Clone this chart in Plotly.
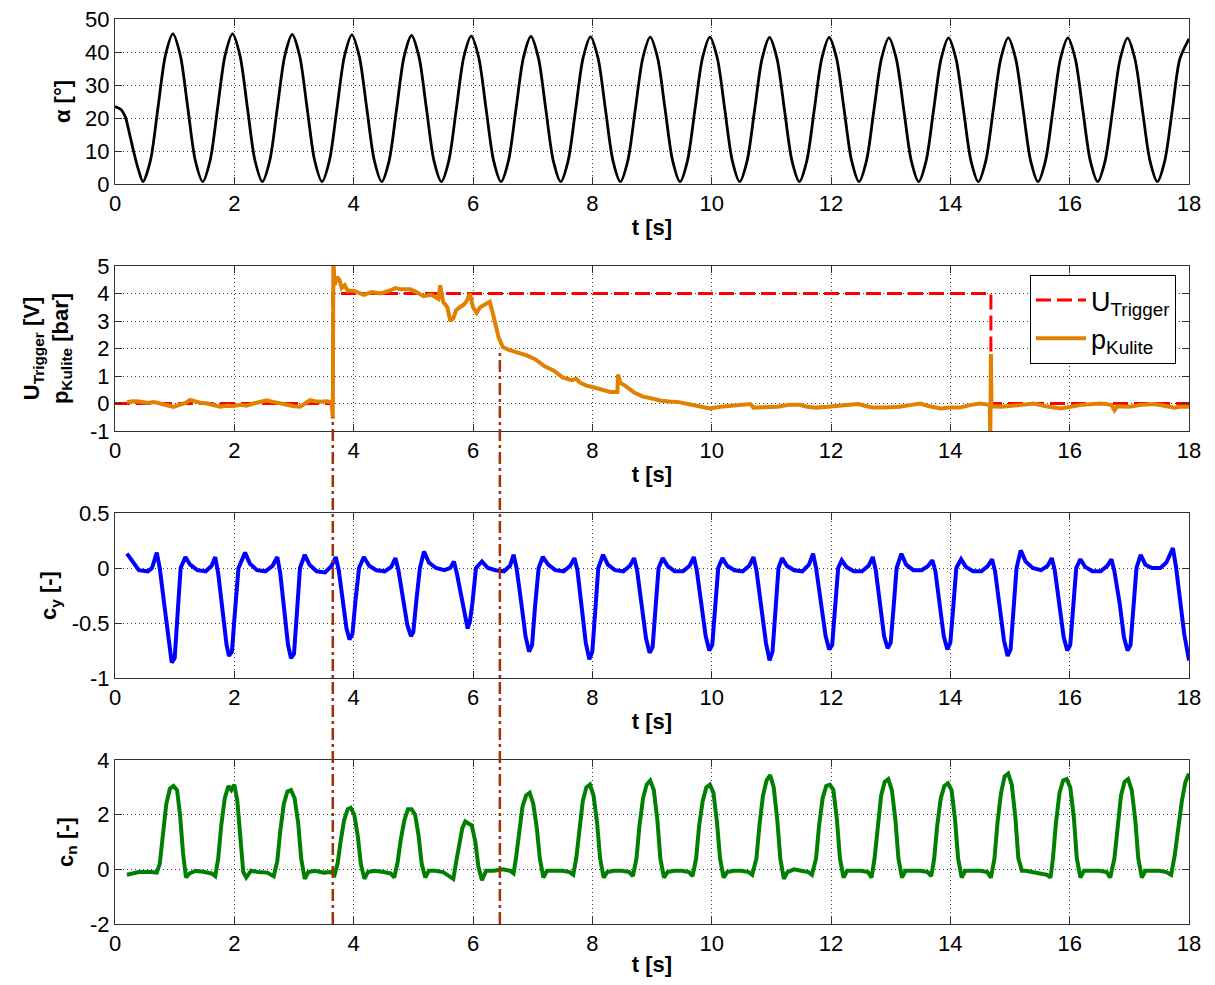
import plotly.graph_objects as go

# ---------------- data ----------------
# panel 1: angle of attack alpha [deg] (read at 1/8-period steps)
alpha_t = [0.0, 0.10, 0.17, 0.24, 0.31, 0.39,
           0.47, 0.595, 0.72, 0.845, 0.97, 1.095, 1.22, 1.345,
           1.47, 1.595, 1.72, 1.845, 1.97, 2.095, 2.22, 2.345,
           2.47, 2.595, 2.72, 2.845, 2.97, 3.095, 3.22, 3.345,
           3.47, 3.595, 3.72, 3.845, 3.97, 4.095, 4.22, 4.345,
           4.47, 4.595, 4.72, 4.845, 4.97, 5.095, 5.22, 5.345,
           5.47, 5.595, 5.72, 5.845, 5.97, 6.095, 6.22, 6.345,
           6.47, 6.595, 6.72, 6.845, 6.97, 7.095, 7.22, 7.345,
           7.47, 7.595, 7.72, 7.845, 7.97, 8.095, 8.22, 8.345,
           8.47, 8.595, 8.72, 8.845, 8.97, 9.095, 9.22, 9.345,
           9.47, 9.595, 9.72, 9.845, 9.97, 10.095, 10.22, 10.345,
           10.47, 10.595, 10.72, 10.845, 10.97, 11.095, 11.22, 11.345,
           11.47, 11.595, 11.72, 11.845, 11.97, 12.095, 12.22, 12.345,
           12.47, 12.595, 12.72, 12.845, 12.97, 13.095, 13.22, 13.345,
           13.47, 13.595, 13.72, 13.845, 13.97, 14.095, 14.22, 14.345,
           14.47, 14.595, 14.72, 14.845, 14.97, 15.095, 15.22, 15.345,
           15.47, 15.595, 15.72, 15.845, 15.97, 16.095, 16.22, 16.345,
           16.47, 16.595, 16.72, 16.845, 16.97, 17.095, 17.22, 17.345,
           17.47, 17.595, 17.72, 17.845, 18.0]
alpha_v = [23.5, 22.6, 20.5, 15.5, 10.0, 4.5,
           0.7, 7.2, 23.1, 39.0, 45.5, 39.0, 23.1, 7.2,
           0.7, 7.2, 23.1, 39.0, 45.5, 38.9, 23.0, 7.2,
           0.7, 7.2, 23.0, 38.8, 45.3, 38.8, 23.0, 7.2,
           0.7, 7.2, 22.9, 38.7, 45.2, 38.6, 22.9, 7.2,
           0.7, 7.1, 22.8, 38.6, 45.0, 38.5, 22.8, 7.1,
           0.7, 7.1, 22.7, 38.4, 44.8, 38.4, 22.7, 7.1,
           0.7, 7.1, 22.7, 38.3, 44.7, 38.3, 22.7, 7.1,
           0.7, 7.1, 22.6, 38.2, 44.6, 38.2, 22.6, 7.1,
           0.7, 7.1, 22.6, 38.1, 44.5, 38.1, 22.6, 7.1,
           0.7, 7.1, 22.6, 38.1, 44.5, 38.1, 22.6, 7.1,
           0.7, 7.1, 22.5, 38.0, 44.4, 38.0, 22.5, 7.1,
           0.7, 7.1, 22.5, 38.0, 44.4, 38.0, 22.5, 7.1,
           0.7, 7.1, 22.5, 37.9, 44.3, 37.9, 22.5, 7.1,
           0.7, 7.1, 22.5, 37.9, 44.3, 37.9, 22.5, 7.1,
           0.7, 7.1, 22.5, 37.9, 44.3, 37.9, 22.5, 7.1,
           0.7, 7.1, 22.5, 37.9, 44.3, 37.9, 22.5, 7.1,
           0.7, 7.1, 22.4, 37.8, 44.2, 37.8, 22.4, 7.1,
           0.7, 7.1, 22.4, 37.8, 44.0]

# panel 2: trigger voltage [V]
trig_t = [0.0, 3.65, 3.65, 14.68, 14.68, 18.0]
trig_v = [0.0, 0.0, 4.0, 4.0, 0.0, 0.0]

# panel 2: Kulite pressure [bar]
p_t = [0.20, 0.30, 0.41, 0.55, 0.65, 0.75, 0.85, 0.98, 1.08, 1.18, 1.26, 1.35, 1.43, 1.55, 1.65,
       1.76, 1.88, 1.98, 2.10, 2.20, 2.32, 2.42, 2.54, 2.65, 2.77, 2.90, 3.00, 3.10, 3.20, 3.27,
       3.35, 3.45, 3.55, 3.63, 3.65, 3.66, 3.68, 3.72, 3.76, 3.80, 3.85, 3.90, 4.00, 4.10, 4.17,
       4.30, 4.45, 4.60, 4.70, 4.80, 4.95, 5.05, 5.17, 5.30, 5.38, 5.42, 5.45, 5.50, 5.57, 5.62,
       5.67, 5.72, 5.78, 5.85, 5.90, 5.95, 6.00, 6.06, 6.12, 6.20, 6.28, 6.33, 6.38, 6.43, 6.50,
       6.60, 6.75, 6.90, 7.05, 7.20, 7.35, 7.50, 7.65, 7.73, 7.80, 7.90, 8.00, 8.15, 8.30, 8.42,
       8.43, 8.47, 8.55, 8.70, 8.85, 9.00, 9.15, 9.30, 9.45, 9.60, 9.80, 9.97, 10.15, 10.35, 10.60,
       10.65, 10.70, 10.90, 11.10, 11.30, 11.47, 11.60, 11.75, 11.95, 12.20, 12.45, 12.60, 12.70,
       12.90, 13.15, 13.35, 13.49, 13.65, 13.83, 14.00, 14.16, 14.35, 14.50, 14.66, 14.67, 14.68,
       14.69, 14.85, 15.00, 15.20, 15.40, 15.60, 15.85, 16.00, 16.20, 16.52, 16.70, 16.75, 16.80,
       17.00, 17.20, 17.42, 17.60, 17.76, 17.85, 18.00]
p_v = [0.05, 0.08, 0.07, 0.02, 0.05, 0.00, -0.08, -0.12, -0.05, 0.02, 0.13, 0.06, 0.03, 0.00, -0.05,
       -0.12, -0.08, -0.10, -0.05, -0.08, 0.00, 0.05, 0.12, 0.06, 0.00, -0.05, -0.10, -0.12, 0.00, 0.12,
       0.08, 0.06, 0.08, 0.05, -0.55, 5.30, 4.30, 4.60, 4.50, 4.20, 4.30, 4.10, 4.10, 4.00, 3.95,
       4.05, 4.00, 4.10, 4.20, 4.15, 4.15, 4.05, 3.90, 3.95, 3.85, 3.80, 4.30, 3.70, 3.50, 3.00,
       3.10, 3.40, 3.50, 3.60, 3.75, 4.00, 3.50, 3.30, 3.50, 3.60, 3.70, 3.30, 2.90, 2.40, 2.05,
       1.95, 1.85, 1.75, 1.60, 1.35, 1.20, 0.95, 0.85, 0.90, 0.75, 0.65, 0.60, 0.50, 0.42, 0.42,
       1.05, 0.75, 0.65, 0.40, 0.25, 0.18, 0.10, 0.07, 0.05, -0.02, -0.10, -0.18, -0.12, -0.08, -0.05,
       -0.02, -0.15, -0.15, -0.12, -0.05, -0.05, -0.12, -0.15, -0.12, -0.08, -0.02, -0.10, -0.15,
       -0.15, -0.12, -0.05, 0.00, -0.10, -0.18, -0.15, -0.15, -0.05, 0.00, -0.05, -1.30, 1.80,
       -0.10, -0.12, -0.10, -0.05, 0.00, -0.10, -0.18, -0.12, -0.05, 0.00, -0.05, -0.25, -0.10,
       -0.12, -0.05, -0.02, -0.10, -0.15, -0.12, -0.12]

# panel 3: side force coefficient c_y
cy_t = [0.20, 0.30, 0.40, 0.55, 0.62,
        0.70, 0.75, 0.83, 0.90, 0.95, 1.00, 1.05, 1.10, 1.18, 1.26, 1.38, 1.52, 1.62,
        1.68, 1.73, 1.80, 1.87, 1.91, 1.96, 2.01, 2.07, 2.18, 2.26, 2.38, 2.52, 2.64,
        2.72, 2.77, 2.84, 2.90, 2.95, 3.00, 3.05, 3.10, 3.18, 3.26, 3.38, 3.52, 3.63,
        3.70, 3.75, 3.82, 3.88, 3.93, 3.98, 4.03, 4.09, 4.17, 4.26, 4.38, 4.52, 4.63,
        4.70, 4.75, 4.83, 4.90, 4.96, 5.00, 5.05, 5.11, 5.18, 5.26, 5.38, 5.52, 5.62,
        5.68, 5.73, 5.80, 5.86, 5.91, 5.95, 5.99, 6.05, 6.15, 6.25, 6.38, 6.52, 6.62,
        6.68, 6.73, 6.81, 6.88, 6.94, 6.99, 7.04, 7.10, 7.17, 7.26, 7.38, 7.52, 7.63,
        7.70, 7.75, 7.82, 7.89, 7.95, 8.00, 8.05, 8.10, 8.18, 8.26, 8.38, 8.52, 8.63,
        8.70, 8.75, 8.83, 8.90, 8.96, 9.01, 9.06, 9.11, 9.18, 9.26, 9.38, 9.52, 9.63,
        9.70, 9.75, 9.83, 9.90, 9.96, 10.01, 10.06, 10.11, 10.18, 10.26, 10.38, 10.52, 10.63,
        10.70, 10.75, 10.84, 10.91, 10.97, 11.02, 11.07, 11.12, 11.18, 11.26, 11.38, 11.52, 11.63,
        11.70, 11.75, 11.84, 11.91, 11.97, 12.02, 12.07, 12.12, 12.18, 12.26, 12.38, 12.52, 12.63,
        12.70, 12.75, 12.82, 12.89, 12.95, 13.00, 13.05, 13.10, 13.18, 13.26, 13.38, 13.52, 13.63,
        13.70, 13.75, 13.82, 13.89, 13.95, 14.00, 14.05, 14.10, 14.18, 14.26, 14.38, 14.52, 14.63,
        14.70, 14.75, 14.83, 14.90, 14.96, 15.01, 15.06, 15.11, 15.18, 15.26, 15.38, 15.52, 15.63,
        15.70, 15.75, 15.83, 15.90, 15.96, 16.01, 16.06, 16.11, 16.18, 16.26, 16.38, 16.52, 16.63,
        16.70, 16.75, 16.84, 16.91, 16.97, 17.02, 17.07, 17.12, 17.19, 17.27, 17.38, 17.52, 17.62,
        17.70, 17.73, 17.78, 17.85, 17.92, 18.00]
cy_v = [0.13, 0.05, -0.02, -0.03, 0.00,
        0.14, 0.00, -0.35, -0.68, -0.86, -0.82, -0.40, 0.00, 0.10, 0.03, -0.02, -0.03, 0.02,
        0.10, -0.05, -0.38, -0.70, -0.80, -0.76, -0.40, 0.00, 0.14, 0.04, -0.02, -0.03, 0.02,
        0.10, -0.05, -0.38, -0.70, -0.82, -0.78, -0.40, 0.00, 0.12, 0.03, -0.03, -0.04, 0.02,
        0.10, -0.02, -0.30, -0.55, -0.65, -0.60, -0.30, 0.00, 0.10, 0.02, -0.02, -0.03, 0.01,
        0.09, -0.02, -0.28, -0.52, -0.62, -0.58, -0.30, 0.00, 0.15, 0.05, 0.00, -0.02, 0.00,
        0.06, -0.05, -0.25, -0.45, -0.55, -0.48, -0.32, 0.00, 0.06, 0.00, -0.02, -0.03, 0.02,
        0.12, 0.00, -0.32, -0.62, -0.76, -0.70, -0.35, 0.00, 0.10, 0.03, -0.02, -0.03, 0.02,
        0.09, -0.02, -0.35, -0.68, -0.83, -0.76, -0.38, 0.00, 0.12, 0.03, -0.02, -0.03, 0.02,
        0.09, -0.02, -0.33, -0.64, -0.77, -0.72, -0.36, 0.00, 0.09, 0.02, -0.03, -0.03, 0.02,
        0.10, -0.02, -0.33, -0.62, -0.75, -0.70, -0.35, 0.00, 0.09, 0.02, -0.02, -0.03, 0.02,
        0.10, -0.02, -0.36, -0.68, -0.84, -0.76, -0.38, 0.00, 0.09, 0.02, -0.02, -0.03, 0.03,
        0.13, 0.00, -0.33, -0.62, -0.74, -0.70, -0.35, 0.00, 0.07, 0.01, -0.03, -0.03, 0.02,
        0.10, -0.02, -0.33, -0.62, -0.73, -0.68, -0.35, 0.00, 0.13, 0.03, -0.02, -0.02, 0.02,
        0.07, -0.03, -0.33, -0.62, -0.74, -0.68, -0.35, 0.00, 0.08, 0.01, -0.03, -0.03, 0.02,
        0.08, -0.03, -0.35, -0.66, -0.80, -0.74, -0.37, 0.00, 0.16, 0.06, 0.00, -0.02, 0.02,
        0.09, -0.02, -0.33, -0.63, -0.75, -0.70, -0.35, 0.00, 0.08, 0.01, -0.03, -0.03, 0.02,
        0.08, -0.03, -0.33, -0.63, -0.75, -0.70, -0.35, 0.00, 0.12, 0.03, 0.00, 0.00, 0.05,
        0.15, 0.18, 0.02, -0.30, -0.60, -0.84]

# panel 4: normal force coefficient c_n
cn_t = [0.20, 0.40, 0.60, 0.70,
        0.75, 0.80, 0.86, 0.92, 0.98, 1.04, 1.09, 1.14, 1.19, 1.25, 1.35, 1.50, 1.62, 1.68,
        1.73, 1.78, 1.84, 1.90, 1.95, 2.00, 2.05, 2.10, 2.15, 2.20, 2.28, 2.40, 2.55, 2.66,
        2.72, 2.77, 2.83, 2.89, 2.95, 3.01, 3.07, 3.12, 3.18, 3.24, 3.35, 3.50, 3.62, 3.68,
        3.73, 3.78, 3.84, 3.90, 3.95, 4.01, 4.07, 4.12, 4.18, 4.24, 4.35, 4.50, 4.62, 4.68,
        4.74, 4.79, 4.85, 4.91, 4.97, 5.03, 5.09, 5.14, 5.20, 5.26, 5.36, 5.50, 5.62, 5.67,
        5.72, 5.77, 5.82, 5.87, 5.92, 5.98, 6.04, 6.09, 6.15, 6.22, 6.35, 6.50, 6.62, 6.68,
        6.72, 6.77, 6.83, 6.89, 6.95, 7.01, 7.07, 7.12, 7.18, 7.24, 7.35, 7.50, 7.62, 7.68,
        7.73, 7.78, 7.84, 7.90, 7.96, 8.02, 8.08, 8.13, 8.19, 8.25, 8.36, 8.50, 8.62, 8.68,
        8.74, 8.79, 8.85, 8.91, 8.97, 9.03, 9.09, 9.14, 9.20, 9.26, 9.37, 9.50, 9.62, 9.68,
        9.74, 9.79, 9.85, 9.91, 9.97, 10.03, 10.09, 10.14, 10.20, 10.26, 10.37, 10.50, 10.62, 10.68,
        10.75, 10.80, 10.86, 10.92, 10.98, 11.04, 11.10, 11.15, 11.21, 11.27, 11.38, 11.50, 11.62, 11.68,
        11.75, 11.80, 11.86, 11.92, 11.98, 12.04, 12.10, 12.15, 12.21, 12.27, 12.38, 12.50, 12.62, 12.68,
        12.73, 12.78, 12.84, 12.90, 12.96, 13.02, 13.08, 13.13, 13.19, 13.25, 13.36, 13.50, 13.62, 13.68,
        13.73, 13.78, 13.84, 13.90, 13.96, 14.02, 14.08, 14.13, 14.19, 14.25, 14.36, 14.50, 14.62, 14.68,
        14.74, 14.79, 14.85, 14.91, 14.97, 15.03, 15.09, 15.14, 15.20, 15.26, 15.37, 15.50, 15.62, 15.68,
        15.72, 15.77, 15.83, 15.89, 15.95, 16.01, 16.07, 16.12, 16.18, 16.24, 16.35, 16.50, 16.62, 16.68,
        16.75, 16.80, 16.86, 16.92, 16.98, 17.04, 17.10, 17.15, 17.21, 17.27, 17.38, 17.50, 17.62, 17.70,
        17.76, 17.82, 17.88, 17.94, 18.00]
cn_v = [-0.20, -0.10, -0.10, -0.12,
        0.20, 1.30, 2.40, 2.95, 3.05, 2.90, 2.00, 0.60, -0.30, -0.15, -0.05, -0.10, -0.15, -0.25,
        0.40, 1.60, 2.60, 3.05, 2.90, 3.10, 2.50, 1.20, -0.10, -0.30, -0.05, -0.10, -0.12, -0.25,
        0.30, 1.40, 2.40, 2.85, 2.90, 2.60, 1.70, 0.40, -0.35, -0.10, -0.05, -0.12, -0.10, -0.20,
        0.20, 1.00, 1.80, 2.20, 2.25, 2.00, 1.20, 0.20, -0.35, -0.10, -0.05, -0.10, -0.15, -0.30,
        0.30, 1.10, 1.80, 2.20, 2.20, 2.00, 1.20, 0.20, -0.30, -0.05, -0.05, -0.10, -0.25, -0.35,
        0.30, 1.00, 1.50, 1.75, 1.70, 1.60, 1.00, 0.10, -0.40, -0.05, -0.05, 0.00, -0.05, -0.15,
        0.40, 1.40, 2.30, 2.70, 2.80, 2.40, 1.50, 0.40, -0.30, -0.05, -0.05, -0.05, -0.10, -0.20,
        0.40, 1.50, 2.50, 3.00, 3.10, 2.70, 1.70, 0.40, -0.30, -0.10, -0.05, -0.05, -0.10, -0.25,
        0.40, 1.60, 2.60, 3.10, 3.25, 2.90, 1.80, 0.40, -0.30, -0.10, -0.05, -0.05, -0.10, -0.25,
        0.40, 1.60, 2.50, 3.00, 3.10, 2.80, 1.70, 0.40, -0.30, -0.10, -0.05, -0.05, -0.10, -0.20,
        0.40, 1.60, 2.70, 3.25, 3.45, 3.00, 1.80, 0.40, -0.35, -0.10, 0.00, -0.05, -0.10, -0.20,
        0.40, 1.60, 2.60, 3.05, 3.10, 2.90, 1.80, 0.40, -0.30, -0.05, -0.05, -0.05, -0.10, -0.30,
        0.40, 1.60, 2.70, 3.20, 3.30, 2.90, 1.80, 0.40, -0.30, -0.05, -0.05, -0.05, -0.10, -0.25,
        0.40, 1.60, 2.60, 3.05, 3.15, 2.90, 1.80, 0.40, -0.30, -0.05, -0.05, -0.05, -0.10, -0.30,
        0.40, 1.70, 2.80, 3.40, 3.50, 3.10, 1.90, 0.40, -0.05, -0.05, -0.10, -0.15, -0.20, -0.30,
        0.40, 1.70, 2.80, 3.25, 3.30, 3.00, 1.90, 0.40, -0.30, -0.05, -0.05, -0.05, -0.10, -0.30,
        0.40, 1.60, 2.70, 3.20, 3.30, 2.90, 1.80, 0.40, -0.30, -0.05, -0.05, -0.05, -0.10, -0.20,
        0.50, 1.60, 2.50, 3.20, 3.50]

# trigger instants marked by dash-dot lines (time, top value in panel 2)
mark_t = [3.65, 6.45]
mark_top = [-0.5, 1.9]

# axes / ticks
x_range = [0, 18]
x_ticks = [0, 2, 4, 6, 8, 10, 12, 14, 16, 18]
x_ticktext = ["0", "2", "4", "6", "8", "10", "12", "14", "16", "18"]
y1_ticks = [0, 10, 20, 30, 40, 50]
y1_text = ["0", "10", "20", "30", "40", "50"]
y2_ticks = [-1, 0, 1, 2, 3, 4, 5]
y2_text = ["-1", "0", "1", "2", "3", "4", "5"]
y3_ticks = [-1, -0.5, 0, 0.5]
y3_text = ["-1", "-0.5", "0", "0.5"]
y4_ticks = [-2, 0, 2, 4]
y4_text = ["-2", "0", "2", "4"]

# ---------------- figure ----------------
# page body has an 8 px margin, so the figure is offset by (8, 8) in the window
OFF = 8
W, H = 1199, 969
ML, MT = 115 - OFF, 19 - OFF
PW, PH = 1074, 905           # plot area size (px)
MR = W - ML - PW
MB = H - MT - PH


def dom(top_px, bot_px):
    return [1 - (bot_px - 19) / PH, 1 - (top_px - 19) / PH]


doms = [dom(19, 184), dom(266, 431), dom(513, 678), dom(760, 924)]

FONT = "Arial, 'Liberation Sans', Helvetica, sans-serif"
AX = "#303030"
GRID = "#404040"

fig = go.Figure()

fig.add_trace(go.Scatter(x=alpha_t, y=alpha_v, mode="lines",
                         line=dict(color="black", width=2.8, shape="spline", smoothing=0.8),
                         xaxis="x", yaxis="y", showlegend=False))
fig.add_trace(go.Scatter(x=trig_t, y=trig_v, mode="lines", name="U<sub>Trigger</sub>",
                         line=dict(color="#FF0000", width=3, dash="15px,6px"),
                         xaxis="x2", yaxis="y2", showlegend=True))
fig.add_trace(go.Scatter(x=p_t, y=p_v, mode="lines", name="p<sub>Kulite</sub>",
                         line=dict(color="rgb(226,128,0)", width=4),
                         xaxis="x2", yaxis="y2", showlegend=True))
fig.add_trace(go.Scatter(x=cy_t, y=cy_v, mode="lines", line=dict(color="#0000FF", width=4),
                         xaxis="x3", yaxis="y3", showlegend=False))
fig.add_trace(go.Scatter(x=cn_t, y=cn_v, mode="lines", line=dict(color="#008000", width=4),
                         xaxis="x4", yaxis="y4", showlegend=False))

tickfont = dict(family=FONT, size=22, color="black")
titlefont = dict(family=FONT, size=22, color="black")

y_specs = [
    ("<b>α [°]</b>", [0, 50], y1_ticks, y1_text, 8),
    ("<b>U<sub>Trigger</sub> [V]<br>p<sub>Kulite</sub> [bar]</b>", [-1, 5], y2_ticks, y2_text, 15),
    ("<b>c<sub>y</sub> [-]</b>", [-1, 0.5], y3_ticks, y3_text, 8),
    ("<b>c<sub>n</sub> [-]</b>", [-2, 4], y4_ticks, y4_text, 10),
]

layout = dict(
    width=W, height=H,
    margin=dict(l=ML, r=MR, t=MT, b=MB),
    paper_bgcolor="white", plot_bgcolor="white",
    font=dict(family=FONT, size=22, color="black"),
    legend=dict(x=(1030 - 115) / PW, y=1 - (275 - 19) / PH, xanchor="left", yanchor="top",
                bgcolor="white", bordercolor="black", borderwidth=1,
                font=dict(family=FONT, size=27, color="black"), itemwidth=50,
                tracegroupgap=0),
)

for i in range(4):
    n = "" if i == 0 else str(i + 1)
    title, yr, yt, ytx, so = y_specs[i]
    layout["xaxis" + n] = dict(
        domain=[0, 1], range=x_range, anchor="y" + n,
        tickmode="array", tickvals=x_ticks, ticktext=x_ticktext,
        ticks="inside", ticklen=7, tickcolor=AX, tickwidth=1,
        showline=True, linecolor=AX, linewidth=1, mirror="ticks",
        showgrid=True, gridcolor=GRID, gridwidth=1, griddash="1px,3px", zeroline=False,
        tickfont=tickfont, automargin=False, ticklabeloverflow="allow",
        title=dict(text="<b>t [s]</b>", font=titlefont, standoff=4),
    )
    layout["yaxis" + n] = dict(
        domain=doms[i], range=yr, anchor="x" + n,
        tickmode="array", tickvals=yt, ticktext=ytx,
        ticks="inside", ticklen=7, tickcolor=AX, tickwidth=1,
        showline=True, linecolor=AX, linewidth=1, mirror="ticks",
        showgrid=True, gridcolor=GRID, gridwidth=1, griddash="1px,3px", zeroline=False,
        tickfont=tickfont, automargin=False, ticklabeloverflow="allow",
        title=dict(text=title, font=titlefont, standoff=so),
    )

fig.update_layout(**layout)

# dash-dot markers from panel 2 down to the bottom of panel 4
d2 = doms[1]
shapes = []
for tm, top in zip(mark_t, mark_top):
    ytop = d2[0] + (top - (-1)) / 6 * (d2[1] - d2[0])
    shapes.append(dict(type="line", xref="x", yref="paper", x0=tm, x1=tm, y0=doms[3][0], y1=ytop,
                       line=dict(color="rgb(160,50,8)", width=2.5, dash="12px,4px,3px,4px"), layer="above"))
fig.update_layout(shapes=shapes)

fig.write_html("out.html")
